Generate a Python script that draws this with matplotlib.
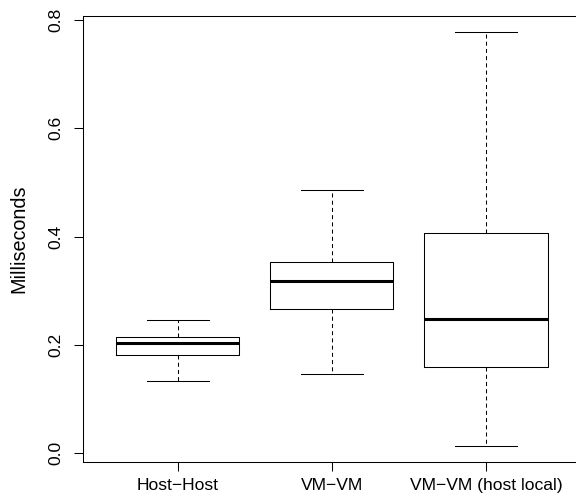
import matplotlib
matplotlib.use("Agg")
import matplotlib.pyplot as plt

# values (ms)
labels = ["Host\u2212Host", "VM\u2212VM", "VM\u2212VM (host local)"]
whisker_low = [0.133, 0.146, 0.014]
q1 = [0.181, 0.266, 0.159]
medians = [0.203, 0.318, 0.248]
q3 = [0.215, 0.353, 0.406]
whisker_high = [0.246, 0.486, 0.777]

plt.rcParams['font.family'] = ['Liberation Sans', 'DejaVu Sans']
plt.rcParams['lines.scale_dashes'] = False

fig = plt.figure(figsize=(5.76, 4.99), dpi=100)
ax = fig.add_axes([82.7 / 576, 36.8 / 499, 498.3 / 576, 446.3 / 499])

stats = []
for i in range(len(labels)):
    stats.append({
        "label": labels[i],
        "whislo": whisker_low[i],
        "q1": q1[i],
        "med": medians[i],
        "q3": q3[i],
        "whishi": whisker_high[i],
        "fliers": [],
    })

lw = 0.75
ax.bxp(stats, positions=[1, 2, 3], widths=0.8, capwidths=0.4, showfliers=False,
       boxprops=dict(color='black', linewidth=lw),
       whiskerprops=dict(color='black', linewidth=lw, linestyle=(0, (2.9, 2.3))),
       capprops=dict(color='black', linewidth=lw),
       medianprops=dict(color='black', linewidth=2.2, solid_capstyle='butt'))

ax.set_xlim(0.383, 3.617)
ax.set_ylim(-0.0165, 0.8075)
ax.set_yticks([0.0, 0.2, 0.4, 0.6, 0.8])
ax.set_yticklabels(["0.0", "0.2", "0.4", "0.6", "0.8"], rotation=90, va='center')
ax.set_xticks([1, 2, 3])
ax.set_xticklabels(labels)

ax.tick_params(axis='both', labelsize=12.6, length=6.3, width=lw, color='black')
ax.tick_params(axis='y', pad=7.5)
ax.tick_params(axis='x', pad=5)

for side in ['left', 'bottom', 'top', 'right']:
    ax.spines[side].set_linewidth(lw)

ax.set_ylabel("Milliseconds", fontsize=14.2)
ax.yaxis.set_label_coords(-0.11, 0.5)

fig.savefig("out.png", dpi=100)
